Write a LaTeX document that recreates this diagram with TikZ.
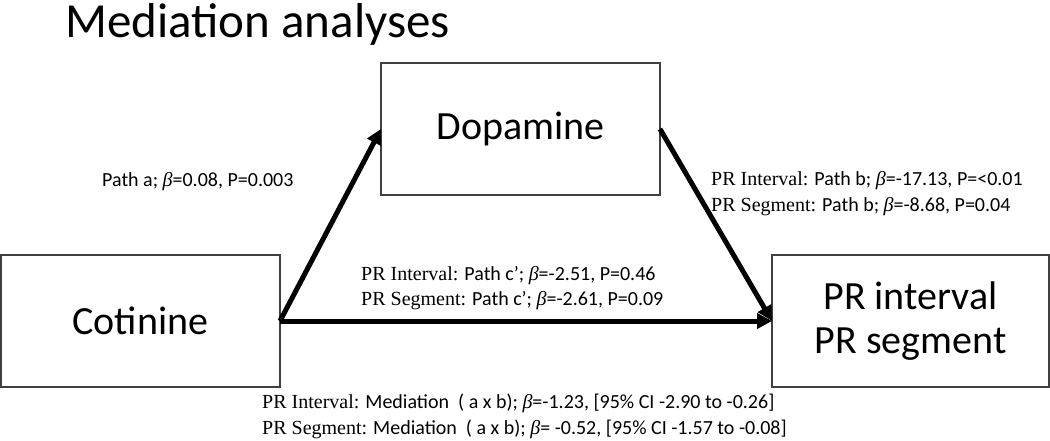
\documentclass[tikz,border=0pt]{standalone}
\usepackage{fontspec}
\setmainfont{Carlito}
\newfontfamily\tnr{Liberation Serif}
\usetikzlibrary{arrows.meta}
\newcommand\lblPRI{{\tnr PR Interval:}}
\newcommand\lblPRS{{\tnr PR Segment:}}
\newcommand\bet{{\tnr\itshape β}}
\begin{document}
\begin{tikzpicture}[x=1pt,y=-1pt,
  box/.style={draw=black!75, line width=1.4pt, inner sep=0pt, outer sep=0pt,
    font=\fontsize{40}{44}\selectfont, align=center},
  arr/.style={line width=5pt, -{Triangle[length=15pt,width=15pt]}},
  lbl/.style={anchor=base west, inner sep=0pt, font=\fontsize{20}{24}\selectfont}]
\useasboundingbox (0,0) rectangle (1050,440);
\node[anchor=base west, inner sep=0pt, font=\fontsize{49}{55}\selectfont] (title) at (65,37) {Mediation analyses};
\node[box, minimum width=279pt, minimum height=132pt] (dop) at (520.5,129) {Dopamine};
\node[box, minimum width=279pt, minimum height=132pt] (cot) at (140.5,321) {Cotinine};
\node[box, minimum width=277pt, minimum height=132pt] (pr) at (910.5,321) {PR interval\\PR segment};
\draw[arr] (cot.east) -- (dop.west);
\draw[arr] (dop.east) -- (pr.west);
\draw[arr] (cot.east) -- (pr.west);
\node[lbl] (la) at (102,186) {Path a; \bet=0.08, P=0.003};
\node[lbl] (lb1) at (711,185) {\lblPRI{} Path b; \bet=-17.13, P=<0.01};
\node[lbl] (lb2) at (711,211) {\lblPRS{} Path b; \bet=-8.68, P=0.04};
\node[lbl] (lc1) at (361,280) {\lblPRI{} Path c’; \bet=-2.51, P=0.46};
\node[lbl] (lc2) at (361,305) {\lblPRS{} Path c’; \bet=-2.61, P=0.09};
\node[lbl] (lm1) at (262,408) {\lblPRI{} Mediation~~( a x b); \bet=-1.23, [95\% CI -2.90 to -0.26]};
\node[lbl] (lm2) at (262,434) {\lblPRS{} Mediation~~( a x b); \bet= -0.52, [95\% CI -1.57 to -0.08]};
\end{tikzpicture}
\end{document}
